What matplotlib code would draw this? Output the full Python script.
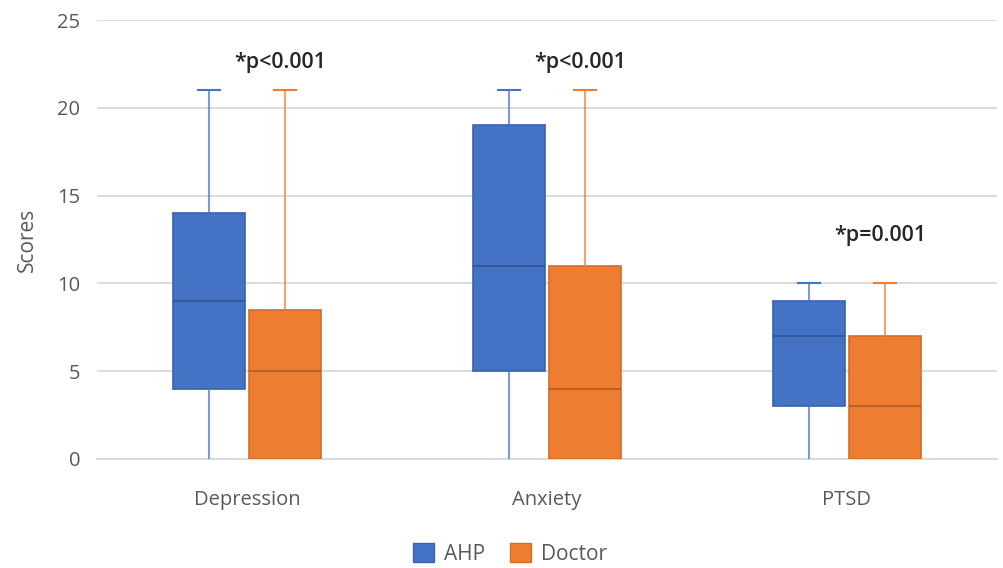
import matplotlib.pyplot as plt
from matplotlib.patches import Patch

plt.rcParams['font.family'] = ['Open Sans', 'DejaVu Sans']

categories = ['Depression', 'Anxiety', 'PTSD']
groups = ['AHP', 'Doctor']
colors = ['#4472C4', '#ED7D31']
edges = ['#3A62AB', '#D46C28']

# five-number summaries per group: whislo, q1, med, q3, whishi
ahp_stats = [(0, 4, 9, 14, 21), (0, 5, 11, 19, 21), (0, 3, 7, 9, 10)]
doc_stats = [(0, 0, 5, 8.5, 21), (0, 0, 4, 11, 21), (0, 0, 3, 7, 10)]
p_labels = ['*p<0.001', '*p<0.001', '*p=0.001']
p_heights = [22.6, 22.6, 12.7]

fig = plt.figure(figsize=(10.04, 5.68), dpi=100)
ax = fig.add_axes([97 / 1004, 109 / 568, 900 / 1004, 439 / 568])

width = 0.24
offset = 0.127
for gi, (stats, col, ec) in enumerate(zip([ahp_stats, doc_stats], colors, edges)):
    bxp = [dict(whislo=s[0], q1=s[1], med=s[2], q3=s[3], whishi=s[4], fliers=[])
           for s in stats]
    pos = [i + 0.5 + (offset if gi else -offset) for i in range(len(categories))]
    art = ax.bxp(bxp, positions=pos, widths=width, showfliers=False, patch_artist=True,
                 boxprops=dict(facecolor=col, edgecolor=ec, linewidth=1.2),
                 medianprops=dict(color='#000000', alpha=0.25, linewidth=1.2),
                 whiskerprops=dict(color=col, alpha=0.7, linewidth=1.5),
                 capprops=dict(color=col, linewidth=1.5), capwidths=0.075,
                 manage_ticks=False, zorder=3)
    # only the upper caps are drawn
    for cap in art['caps'][0::2]:
        cap.set_visible(False)

for i, (txt, h) in enumerate(zip(p_labels, p_heights)):
    ax.text(i + 0.612, h, txt, ha='center', va='center', fontsize=15.5,
            fontweight='semibold', color='#262626')

ax.set_xlim(0, 3)
ax.set_ylim(0, 25)
ax.set_yticks(range(0, 26, 5))
ax.set_xticks([0.5, 1.5, 2.5])
ax.set_xticklabels(categories)
ax.grid(axis='y', color='#D9D9D9', linewidth=1.3, zorder=0)
ax.set_axisbelow(True)
for s in ['top', 'right', 'left']:
    ax.spines[s].set_visible(False)
ax.spines['bottom'].set_color('#D9D9D9')
ax.spines['bottom'].set_linewidth(1.3)
ax.tick_params(length=0, labelsize=14.5, colors='#595959')
ax.tick_params(axis='y', pad=12)
ax.tick_params(axis='x', pad=22)
ax.set_ylabel('Scores', fontsize=15, color='#595959', labelpad=14)

handles = [Patch(facecolor=c, edgecolor=e, label=g)
           for g, c, e in zip(groups, colors, edges)]
fig.legend(handles=handles, loc='center', bbox_to_anchor=(510 / 1004, 1 - 554 / 568),
           ncol=2, frameon=False, fontsize=15, labelcolor='#595959',
           handlelength=1.0, handleheight=1.0, columnspacing=1.2, handletextpad=0.5)

fig.savefig('out.png', dpi=100)
